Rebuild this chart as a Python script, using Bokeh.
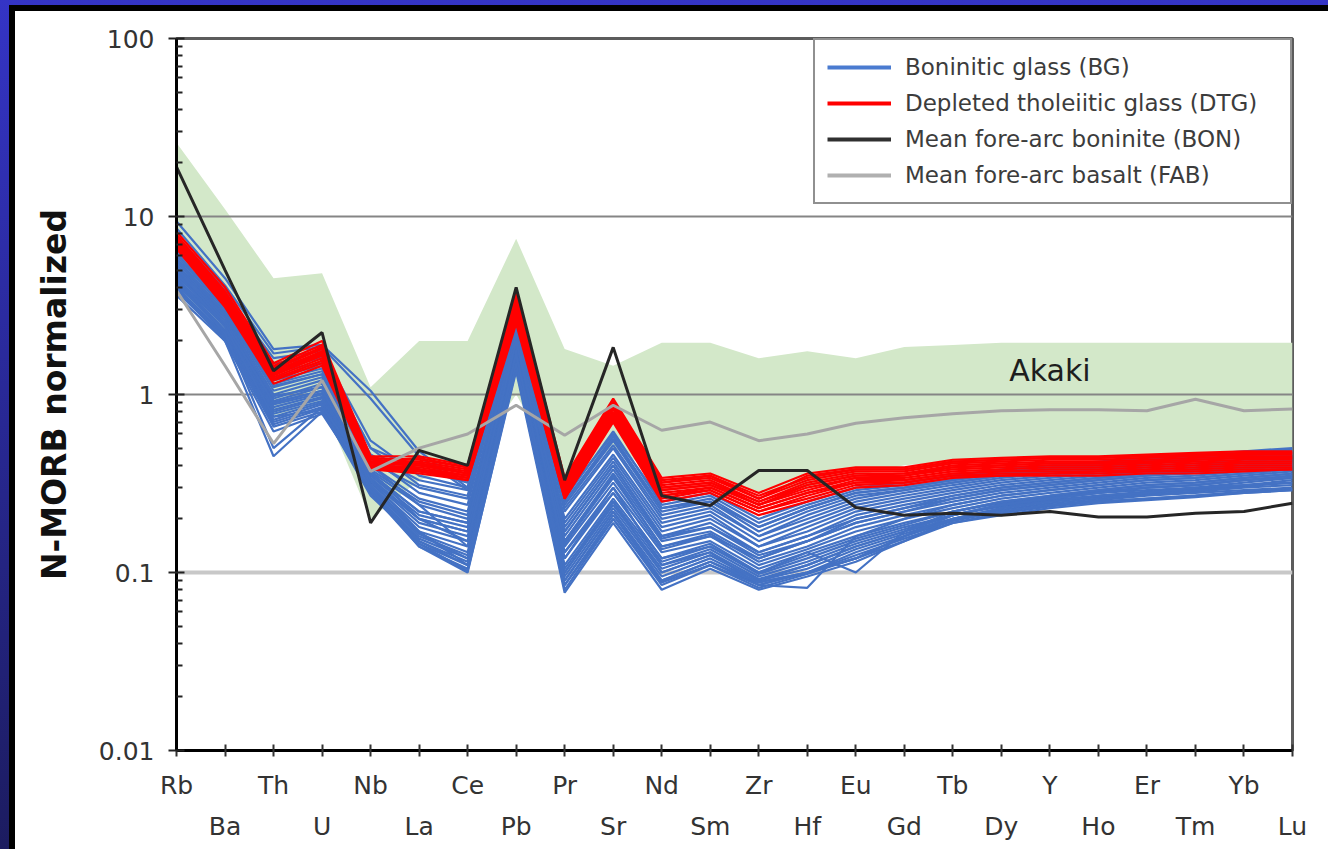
from bokeh.plotting import figure
from bokeh.models import (Range1d, FixedTicker, LinearAxis, CustomJSTickFormatter,
                          Legend, LegendItem)
from bokeh.core.properties import value
from bokeh.embed import file_html
from bokeh.resources import INLINE

# Trace elements, in spider-diagram order
elements = ["Rb", "Ba", "Th", "U", "Nb", "La", "Ce", "Pb", "Pr", "Sr", "Nd", "Sm",
            "Zr", "Hf", "Eu", "Gd", "Tb", "Dy", "Y", "Ho", "Er", "Tm", "Yb", "Lu"]

# Akaki field envelope (N-MORB normalized)
akaki_upper = [26, 11, 4.5, 4.8, 1.1, 2.0, 2.0, 7.5, 1.8, 1.45, 1.95, 1.95,
               1.6, 1.75, 1.6, 1.85, 1.9, 1.95, 1.95, 1.95, 1.95, 1.95, 1.95, 1.95]
akaki_lower = [4.0, 2.0, 0.75, 0.9, 0.2, 0.33, 0.4, 1.0, 0.33, 0.5, 0.35, 0.33,
               0.28, 0.3, 0.35, 0.4, 0.42, 0.43, 0.44, 0.44, 0.45, 0.45, 0.46, 0.46]

# Mean fore-arc boninite (BON) and mean fore-arc basalt (FAB)
bon = [19, 5.0, 1.36, 2.23, 0.19, 0.485, 0.40, 4.0, 0.33, 1.84, 0.27, 0.238,
       0.374, 0.374, 0.232, 0.21, 0.215, 0.21, 0.22, 0.205, 0.205, 0.215, 0.22, 0.245]
fab = [3.84, 1.45, 0.53, 1.2, 0.37, 0.5, 0.6, 0.87, 0.59, 0.87, 0.63, 0.70,
       0.55, 0.6, 0.69, 0.74, 0.78, 0.81, 0.82, 0.82, 0.81, 0.94, 0.81, 0.83]

# Boninitic glass (BG) analyses
bg = [
    [9.4, 4.5, 1.8, 1.9, 1.05, 0.48, 0.3, 3.7, 0.26, 0.62, 0.24, 0.27, 0.19, 0.24, 0.29, 0.31, 0.34, 0.37, 0.39, 0.41, 0.43, 0.45, 0.47, 0.49],
    [8.6, 4.1, 1.7, 1.85, 0.95, 0.45, 0.29, 3.4, 0.25, 0.58, 0.23, 0.26, 0.18, 0.23, 0.28, 0.3, 0.33, 0.36, 0.38, 0.4, 0.42, 0.44, 0.46, 0.47],
    [7.8, 3.9, 1.5, 1.6, 0.5, 0.38, 0.32, 3.2, 0.27, 0.6, 0.25, 0.28, 0.2, 0.25, 0.3, 0.32, 0.35, 0.38, 0.4, 0.42, 0.44, 0.46, 0.48, 0.5],
    [7.2, 3.6, 1.35, 1.5, 0.46, 0.33, 0.29, 3.0, 0.24, 0.55, 0.22, 0.25, 0.17, 0.22, 0.27, 0.29, 0.32, 0.35, 0.37, 0.39, 0.41, 0.43, 0.44, 0.46],
    [6.9, 3.4, 1.25, 1.45, 0.42, 0.3, 0.26, 2.9, 0.22, 0.5, 0.2, 0.23, 0.16, 0.2, 0.25, 0.28, 0.31, 0.34, 0.36, 0.38, 0.4, 0.41, 0.43, 0.45],
    [6.5, 3.3, 1.15, 1.35, 0.44, 0.28, 0.24, 2.8, 0.2, 0.46, 0.19, 0.22, 0.15, 0.19, 0.24, 0.27, 0.3, 0.33, 0.35, 0.37, 0.39, 0.4, 0.42, 0.44],
    [6.2, 3.1, 1.1, 1.3, 0.4, 0.26, 0.22, 2.6, 0.19, 0.44, 0.18, 0.21, 0.14, 0.18, 0.23, 0.26, 0.29, 0.32, 0.34, 0.36, 0.38, 0.39, 0.41, 0.43],
    [6.0, 3.0, 1.05, 1.25, 0.38, 0.25, 0.21, 2.5, 0.18, 0.42, 0.17, 0.2, 0.14, 0.17, 0.22, 0.25, 0.28, 0.31, 0.33, 0.35, 0.37, 0.38, 0.4, 0.42],
    [5.8, 2.9, 1.0, 1.2, 0.37, 0.24, 0.2, 2.4, 0.17, 0.4, 0.16, 0.19, 0.13, 0.16, 0.21, 0.24, 0.27, 0.3, 0.32, 0.34, 0.36, 0.37, 0.39, 0.41],
    [5.6, 2.8, 0.95, 1.15, 0.36, 0.22, 0.19, 2.3, 0.16, 0.38, 0.155, 0.18, 0.125, 0.15, 0.2, 0.23, 0.26, 0.29, 0.31, 0.33, 0.35, 0.36, 0.38, 0.4],
    [5.4, 2.75, 0.92, 1.1, 0.35, 0.21, 0.18, 2.2, 0.15, 0.36, 0.15, 0.17, 0.12, 0.15, 0.19, 0.22, 0.25, 0.28, 0.3, 0.32, 0.34, 0.35, 0.37, 0.39],
    [5.2, 2.7, 0.9, 1.05, 0.34, 0.2, 0.17, 2.1, 0.145, 0.34, 0.14, 0.165, 0.115, 0.14, 0.18, 0.21, 0.24, 0.27, 0.29, 0.31, 0.33, 0.34, 0.36, 0.38],
    [5.0, 2.6, 0.88, 1.02, 0.33, 0.19, 0.16, 2.0, 0.14, 0.32, 0.135, 0.16, 0.11, 0.135, 0.17, 0.2, 0.23, 0.26, 0.28, 0.3, 0.32, 0.33, 0.35, 0.37],
    [4.9, 2.5, 0.85, 1.0, 0.32, 0.18, 0.15, 1.9, 0.13, 0.3, 0.13, 0.15, 0.105, 0.13, 0.16, 0.19, 0.22, 0.25, 0.27, 0.29, 0.31, 0.32, 0.34, 0.36],
    [4.7, 2.45, 0.82, 0.97, 0.31, 0.17, 0.14, 1.8, 0.12, 0.28, 0.12, 0.145, 0.1, 0.125, 0.155, 0.185, 0.22, 0.245, 0.265, 0.285, 0.3, 0.31, 0.33, 0.35],
    [4.5, 2.4, 0.8, 0.95, 0.3, 0.165, 0.13, 1.75, 0.11, 0.26, 0.115, 0.14, 0.098, 0.12, 0.15, 0.18, 0.21, 0.24, 0.26, 0.28, 0.29, 0.3, 0.32, 0.34],
    [4.4, 2.3, 0.78, 0.92, 0.3, 0.16, 0.125, 1.7, 0.105, 0.25, 0.11, 0.135, 0.095, 0.115, 0.145, 0.175, 0.21, 0.235, 0.255, 0.27, 0.285, 0.295, 0.31, 0.33],
    [4.3, 2.25, 0.75, 0.9, 0.29, 0.155, 0.12, 1.6, 0.1, 0.24, 0.105, 0.13, 0.092, 0.11, 0.14, 0.17, 0.2, 0.23, 0.25, 0.265, 0.28, 0.29, 0.305, 0.32],
    [4.2, 2.2, 0.72, 0.88, 0.29, 0.15, 0.115, 1.55, 0.095, 0.23, 0.1, 0.125, 0.09, 0.105, 0.135, 0.165, 0.2, 0.225, 0.245, 0.26, 0.275, 0.285, 0.3, 0.31],
    [4.0, 2.15, 0.7, 0.85, 0.28, 0.145, 0.11, 1.5, 0.09, 0.22, 0.095, 0.12, 0.088, 0.1, 0.13, 0.16, 0.195, 0.22, 0.24, 0.255, 0.27, 0.28, 0.29, 0.3],
    [3.9, 2.1, 0.68, 0.83, 0.28, 0.14, 0.105, 1.45, 0.085, 0.21, 0.09, 0.115, 0.085, 0.1, 0.125, 0.155, 0.19, 0.215, 0.235, 0.25, 0.26, 0.27, 0.285, 0.295],
    [3.8, 2.05, 0.66, 0.8, 0.29, 0.14, 0.1, 1.4, 0.08, 0.2, 0.085, 0.11, 0.082, 0.098, 0.12, 0.15, 0.19, 0.21, 0.23, 0.245, 0.255, 0.265, 0.28, 0.29],
    [3.6, 2.0, 0.62, 0.78, 0.3, 0.145, 0.102, 1.35, 0.077, 0.19, 0.08, 0.105, 0.08, 0.095, 0.115, 0.15, 0.2, 0.22, 0.24, 0.25, 0.26, 0.27, 0.28, 0.29],
    [4.1, 2.0, 0.45, 0.8, 0.33, 0.2, 0.17, 2.0, 0.15, 0.35, 0.14, 0.16, 0.12, 0.15, 0.19, 0.22, 0.26, 0.29, 0.31, 0.33, 0.35, 0.37, 0.38, 0.4],
    [4.6, 2.2, 0.5, 0.85, 0.36, 0.22, 0.19, 2.2, 0.17, 0.4, 0.16, 0.18, 0.13, 0.16, 0.2, 0.23, 0.27, 0.3, 0.32, 0.34, 0.36, 0.38, 0.39, 0.41],
    [5.3, 2.6, 0.98, 1.1, 0.4, 0.24, 0.14, 2.2, 0.12, 0.3, 0.11, 0.13, 0.085, 0.082, 0.16, 0.2, 0.24, 0.27, 0.29, 0.31, 0.33, 0.34, 0.36, 0.38],
    [5.1, 2.5, 0.9, 1.05, 0.37, 0.2, 0.15, 2.0, 0.13, 0.28, 0.12, 0.14, 0.1, 0.13, 0.1, 0.17, 0.22, 0.25, 0.27, 0.29, 0.31, 0.32, 0.34, 0.36],
    [6.8, 3.3, 1.4, 1.6, 0.5, 0.31, 0.27, 3.0, 0.23, 0.52, 0.21, 0.24, 0.16, 0.21, 0.26, 0.29, 0.32, 0.35, 0.37, 0.39, 0.41, 0.43, 0.45, 0.47],
    [7.5, 3.7, 1.6, 1.75, 0.55, 0.35, 0.3, 3.3, 0.25, 0.56, 0.23, 0.25, 0.18, 0.23, 0.28, 0.3, 0.33, 0.36, 0.38, 0.41, 0.43, 0.45, 0.47, 0.48],
    [5.7, 2.85, 1.12, 1.3, 0.31, 0.165, 0.12, 1.65, 0.1, 0.25, 0.1, 0.125, 0.09, 0.11, 0.14, 0.17, 0.21, 0.24, 0.26, 0.28, 0.3, 0.31, 0.33, 0.35],
    [4.8, 2.4, 0.75, 0.82, 0.27, 0.15, 0.11, 1.5, 0.085, 0.2, 0.088, 0.11, 0.085, 0.1, 0.12, 0.16, 0.2, 0.23, 0.25, 0.27, 0.28, 0.3, 0.31, 0.32],
    [6.3, 3.0, 1.2, 1.4, 0.33, 0.17, 0.11, 1.7, 0.09, 0.22, 0.09, 0.115, 0.088, 0.1, 0.12, 0.16, 0.21, 0.24, 0.26, 0.28, 0.3, 0.31, 0.33, 0.34],
]

# Depleted tholeiitic glass (DTG) analyses
dtg = [
    [8.2, 4.0, 1.5, 2.0, 0.45, 0.45, 0.4, 3.8, 0.34, 0.95, 0.34, 0.36, 0.28, 0.36, 0.39, 0.39, 0.43, 0.44, 0.45, 0.45, 0.46, 0.47, 0.48, 0.48],
    [7.9, 3.8, 1.45, 1.9, 0.44, 0.43, 0.39, 3.6, 0.33, 0.92, 0.33, 0.35, 0.27, 0.34, 0.38, 0.38, 0.42, 0.43, 0.44, 0.44, 0.45, 0.46, 0.47, 0.47],
    [7.7, 3.7, 1.4, 1.85, 0.43, 0.42, 0.38, 3.4, 0.32, 0.9, 0.32, 0.34, 0.26, 0.33, 0.37, 0.37, 0.41, 0.42, 0.43, 0.43, 0.44, 0.45, 0.46, 0.46],
    [7.5, 3.6, 1.38, 1.8, 0.42, 0.41, 0.37, 3.3, 0.31, 0.88, 0.31, 0.33, 0.25, 0.32, 0.36, 0.36, 0.4, 0.41, 0.42, 0.42, 0.43, 0.44, 0.45, 0.45],
    [7.4, 3.55, 1.35, 1.75, 0.41, 0.4, 0.36, 3.2, 0.3, 0.85, 0.3, 0.32, 0.25, 0.31, 0.35, 0.35, 0.39, 0.4, 0.41, 0.41, 0.42, 0.43, 0.44, 0.44],
    [7.3, 3.5, 1.32, 1.7, 0.41, 0.4, 0.36, 3.1, 0.3, 0.83, 0.29, 0.31, 0.24, 0.3, 0.34, 0.35, 0.38, 0.39, 0.4, 0.4, 0.41, 0.42, 0.43, 0.43],
    [7.1, 3.45, 1.3, 1.68, 0.4, 0.39, 0.35, 3.0, 0.29, 0.8, 0.29, 0.31, 0.24, 0.29, 0.34, 0.34, 0.37, 0.38, 0.39, 0.39, 0.4, 0.41, 0.42, 0.42],
    [7.0, 3.4, 1.28, 1.65, 0.4, 0.38, 0.35, 2.9, 0.28, 0.78, 0.28, 0.3, 0.23, 0.28, 0.33, 0.33, 0.36, 0.37, 0.38, 0.38, 0.39, 0.4, 0.41, 0.41],
    [6.9, 3.35, 1.25, 1.6, 0.39, 0.38, 0.34, 2.8, 0.28, 0.76, 0.27, 0.3, 0.23, 0.28, 0.32, 0.33, 0.36, 0.37, 0.37, 0.37, 0.38, 0.39, 0.4, 0.4],
    [6.8, 3.3, 1.22, 1.55, 0.39, 0.37, 0.34, 2.7, 0.27, 0.74, 0.27, 0.29, 0.22, 0.27, 0.32, 0.32, 0.35, 0.36, 0.36, 0.37, 0.37, 0.38, 0.39, 0.39],
    [6.7, 3.2, 1.2, 1.5, 0.38, 0.37, 0.33, 2.6, 0.26, 0.72, 0.26, 0.29, 0.22, 0.26, 0.31, 0.32, 0.35, 0.35, 0.36, 0.36, 0.37, 0.37, 0.38, 0.38],
    [6.6, 3.1, 1.15, 1.45, 0.38, 0.36, 0.33, 2.5, 0.26, 0.7, 0.25, 0.28, 0.21, 0.25, 0.3, 0.31, 0.34, 0.35, 0.35, 0.35, 0.36, 0.36, 0.37, 0.38],
    [7.6, 3.7, 1.42, 1.82, 0.42, 0.44, 0.39, 3.5, 0.33, 0.9, 0.32, 0.35, 0.26, 0.35, 0.38, 0.38, 0.42, 0.43, 0.44, 0.44, 0.45, 0.46, 0.46, 0.47],
    [7.2, 3.5, 1.35, 1.72, 0.41, 0.41, 0.36, 3.1, 0.3, 0.84, 0.3, 0.32, 0.24, 0.31, 0.35, 0.36, 0.39, 0.4, 0.41, 0.41, 0.42, 0.43, 0.44, 0.44],
]

y_ticks = [0.01, 0.1, 1, 10, 100]
legend_labels = ["Boninitic glass (BG)", "Depleted tholeiitic glass (DTG)",
                 "Mean fore-arc boninite (BON)", "Mean fore-arc basalt (FAB)"]
field_name = "Akaki"

idx = list(range(len(elements)))
FONT = "DejaVu Sans"
W, H = 1328, 849

p = figure(width=W, height=H, y_axis_type="log",
           x_range=Range1d(0, len(elements) - 1), y_range=Range1d(y_ticks[0], y_ticks[-1]),
           output_backend="svg", toolbar_location=None,
           min_border_left=176, min_border_right=36, min_border_top=38, min_border_bottom=99,
           background_fill_color="white", border_fill_alpha=0,
           outline_line_color="#5c5c5c", outline_line_width=3)
# slide-style page behind the transparent border: blue band top/left, black rule, white panel
p.styles = {"overflow": "hidden", "background": (
    "linear-gradient(#ffffff, #ffffff) 15px 11px / 100% 100% no-repeat, "
    "linear-gradient(#000000, #000000) 9px 5px / 100% 100% no-repeat, "
    "linear-gradient(#3434c6, #1c1c60)")}
p.xgrid.visible = False
p.ygrid.visible = False

# Akaki compositional field
p.varea(x=idx, y1=akaki_lower, y2=akaki_upper, fill_color="#d3e8c9")

# horizontal reference lines
p.hspan(y=[10, 1], line_color="#858585", line_width=2)
p.hspan(y=[0.1], line_color="#c8c8c8", line_width=4)

# sample patterns
p.multi_line(xs=[idx] * len(bg), ys=bg, line_color="#4472c4", line_width=2.2)
p.multi_line(xs=[idx] * len(dtg), ys=dtg, line_color="#ff0000", line_width=2.2)
p.line(idx, fab, line_color="#a6a6a6", line_width=3)
p.line(idx, bon, line_color="#262626", line_width=3)

p.text(x=[elements.index("Y")], y=[1.36], text=[field_name], text_font=value(FONT),
       text_font_size="30px", text_align="center", text_baseline="middle",
       text_color="#1e1e1e")

# legend swatches: single-point lines (draw nothing in the plot area)
sw_bg = p.line(idx[:1], bg[0][:1], line_color="#4a7bd0", line_width=4)
sw_dtg = p.line(idx[:1], dtg[0][:1], line_color="#ff0000", line_width=4)
sw_bon = p.line(idx[:1], bon[:1], line_color="#303030", line_width=4)
sw_fab = p.line(idx[:1], fab[:1], line_color="#b0b0b0", line_width=4)
legend = Legend(items=[LegendItem(label=legend_labels[0], renderers=[sw_bg]),
                       LegendItem(label=legend_labels[1], renderers=[sw_dtg]),
                       LegendItem(label=legend_labels[2], renderers=[sw_bon]),
                       LegendItem(label=legend_labels[3], renderers=[sw_fab])],
                location="top_right", margin=0, padding=12, spacing=6,
                glyph_width=64, glyph_height=30, label_height=30, label_width=373,
                label_standoff=14, label_text_font=FONT, label_text_font_size="23px",
                label_text_color="#3c3c3c", border_line_color="#222222",
                border_line_width=2, background_fill_color="white",
                background_fill_alpha=1.0)
p.add_layout(legend)

# y axis
ya = p.yaxis[0]
ya.ticker = FixedTicker(ticks=y_ticks,
                        minor_ticks=[m * d for d in y_ticks[:-1] for m in range(2, 10)])
ya.formatter = CustomJSTickFormatter(code="return tick.toString();")
ya.axis_line_color = "black"
ya.axis_line_width = 3
ya.major_tick_in = 8
ya.major_tick_out = 8
ya.major_tick_line_width = 2
ya.major_tick_line_color = "#222222"
ya.minor_tick_in = 6
ya.minor_tick_out = 0
ya.minor_tick_line_width = 2
ya.minor_tick_line_color = "#222222"
ya.major_label_text_font = FONT
ya.major_label_text_font_size = "25px"
ya.major_label_text_color = "#333333"
ya.major_label_standoff = 14
ya.axis_label = "N-MORB normalized"
ya.axis_label_text_font = FONT
ya.axis_label_text_font_style = "bold"
ya.axis_label_text_font_size = "33px"
ya.axis_label_text_color = "#111111"
ya.axis_label_standoff = 22

# x axis: two staggered rows of element names
xa = p.xaxis[0]
xa.ticker = FixedTicker(ticks=idx)
xa.major_label_overrides = {i: (e if i % 2 == 0 else "") for i, e in enumerate(elements)}
xa.axis_line_color = "black"
xa.axis_line_width = 3
xa.major_tick_in = 6
xa.major_tick_out = 6
xa.major_tick_line_width = 2
xa.major_tick_line_color = "#333333"
xa.minor_tick_line_color = None
xa.major_label_text_font = FONT
xa.major_label_text_font_size = "25px"
xa.major_label_text_color = "#333333"
xa.major_label_standoff = 14

xb = LinearAxis(ticker=FixedTicker(ticks=idx))
xb.major_label_overrides = {i: (e if i % 2 == 1 else "") for i, e in enumerate(elements)}
xb.axis_line_color = None
xb.major_tick_line_color = None
xb.minor_tick_line_color = None
xb.major_tick_in = 0
xb.major_tick_out = 0
xb.major_label_text_font = FONT
xb.major_label_text_font_size = "25px"
xb.major_label_text_color = "#333333"
xb.major_label_standoff = 9
p.add_layout(xb, "below")

open("out.html", "w").write(file_html(p, INLINE))
